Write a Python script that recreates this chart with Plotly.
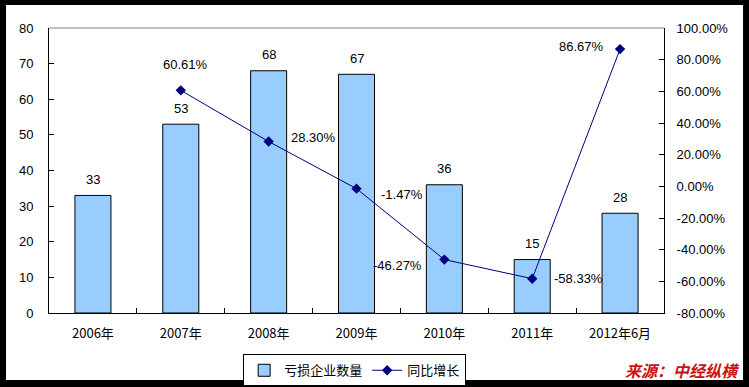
import plotly.graph_objects as go

categories = ["2006年", "2007年", "2008年", "2009年", "2010年", "2011年", "2012年6月"]
loss_counts = [33, 53, 68, 67, 36, 15, 28]
growth_cats = ["2007年", "2008年", "2009年", "2010年", "2011年", "2012年6月"]
growth_pct = [60.61, 28.30, -1.47, -46.27, -58.33, 86.67]

left_ticks = [0, 10, 20, 30, 40, 50, 60, 70, 80]
right_ticks = [-80, -60, -40, -20, 0, 20, 40, 60, 80, 100]

# label placement styling (xanchor, xshift, yshift) for percent labels
pct_label_style = [
    ("center", 5, 26),
    ("left", 20, 4),
    ("left", 22, -6),
    ("right", -20, -6),
    ("left", 20, 0),
    ("right", -14, 3),
]

FONT = "Liberation Sans, Arial, sans-serif"
CJK = "Noto Sans CJK SC, sans-serif"

fig = go.Figure()
fig.add_trace(go.Bar(
    x=categories, y=loss_counts, name="亏损企业数量",
    marker=dict(color="#99CCFF", line=dict(color="black", width=1)),
    yaxis="y",
))
fig.add_trace(go.Scatter(
    x=growth_cats, y=growth_pct, name="同比增长", mode="lines+markers",
    line=dict(color="#000080", width=1),
    marker=dict(symbol="diamond", size=8, color="#000080"),
    yaxis="y2",
))

annotations = []
for c, v in zip(categories, loss_counts):
    annotations.append(dict(x=c, y=v, xref="x", yref="y", text=str(v),
                            showarrow=False, yshift=16,
                            font=dict(family=FONT, size=13, color="black")))
for c, v, (xa, xs, ys) in zip(growth_cats, growth_pct, pct_label_style):
    annotations.append(dict(x=c, y=v, xref="x", yref="y2", text=f"{v:.2f}%",
                            showarrow=False, xanchor=xa, xshift=xs, yshift=ys,
                            font=dict(family=FONT, size=13, color="black")))
annotations.append(dict(x=1.127, y=-0.2, xref="paper", yref="paper",
                        text="<b><i>来源：中经纵横</i></b>", showarrow=False,
                        xanchor="right", yanchor="middle",
                        font=dict(family=CJK, size=16, color="#CC1111")))

shapes = [
    dict(type="rect", xref="paper", yref="paper", x0=-0.0699, x1=1.1285,
         y0=-0.2351, y1=1.0807, fillcolor="white", line=dict(width=0), layer="below"),
    dict(type="line", xref="paper", yref="paper", x0=0, x1=1, y0=1, y1=1,
         line=dict(color="#808080", width=1)),
]

fig.update_layout(
    width=749, height=387,
    margin=dict(l=49, r=85, t=28, b=74, autoexpand=False),
    paper_bgcolor="black", plot_bgcolor="white",
    bargap=0.59,
    showlegend=True,
    legend=dict(orientation="h", x=0.497, y=-0.145, xanchor="center", yanchor="top",
                bordercolor="black", borderwidth=1, bgcolor="white",
                font=dict(family=CJK, size=13, color="black"), itemwidth=30,
                traceorder="normal"),
    xaxis=dict(type="category", showline=True, linecolor="black", linewidth=1,
               ticks="inside", ticklen=5, tickcolor="black", tickson="boundaries",
               tickfont=dict(family=CJK, size=13, color="black"),
               ticklabelstandoff=8, showgrid=False, zeroline=False),
    yaxis=dict(range=[0, 80], tickvals=left_ticks, showline=True, linecolor="black",
               linewidth=1, ticks="inside", ticklen=5, tickcolor="black",
               tickfont=dict(family=FONT, size=13, color="black"),
               ticklabelstandoff=12, showgrid=False, zeroline=False),
    yaxis2=dict(range=[-80, 100], tickvals=right_ticks,
                ticktext=[f"{t:.2f}%" for t in right_ticks],
                overlaying="y", side="right", showline=True, linecolor="black",
                linewidth=1, ticks="inside", ticklen=5, tickcolor="black",
                tickfont=dict(family=FONT, size=13, color="black"),
                ticklabelstandoff=9, showgrid=False, zeroline=False),
    annotations=annotations,
    shapes=shapes,
)

fig.write_html("out.html", config={"displayModeBar": False},
               post_script="document.body.style.margin='0';document.body.style.overflow='hidden';")
